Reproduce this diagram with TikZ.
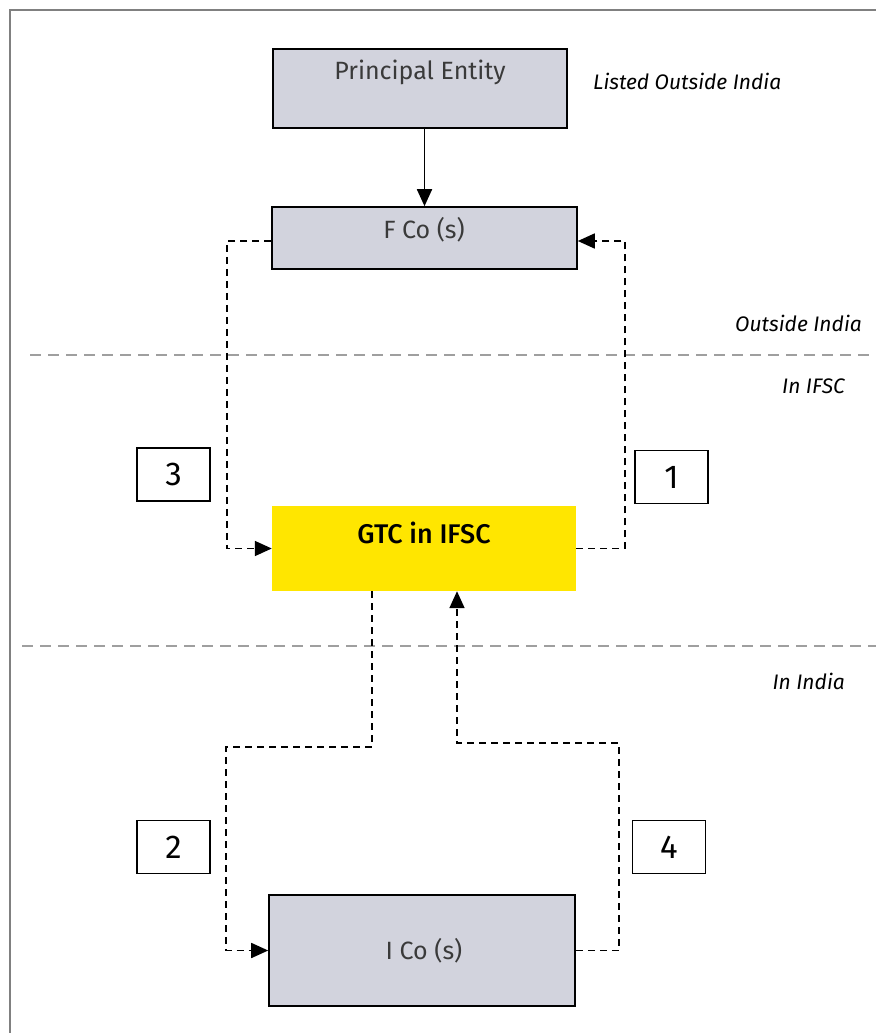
\documentclass[tikz,border=0pt]{standalone}
\usepackage{fontspec}
\setmainfont{Fira Sans}
\newfontfamily\gtcfont{Fira Sans Medium}
\usetikzlibrary{arrows.meta}

\definecolor{boxgrey}{HTML}{D2D3DD}
\definecolor{eyyellow}{HTML}{FFE600}
\definecolor{txtgrey}{HTML}{3A3A3A}

\begin{document}
\begin{tikzpicture}[x=1pt,y=-1pt,>={Triangle[length=17pt,width=15pt]},
  greybox/.style={draw,line width=1.6pt,fill=boxgrey,inner sep=0pt},
  boxtext/.style={text=txtgrey,font=\fontsize{25}{30}\selectfont,inner sep=0pt,anchor=base},
  numbox/.style={draw,line width=1.4pt,minimum width=73pt,minimum height=53pt,
                 font=\fontsize{33}{39}\selectfont,inner sep=0pt},
  zone/.style={font=\itshape\fontsize{21}{25}\selectfont,inner sep=0pt,anchor=base east},
  flow/.style={->,dash pattern=on 7pt off 5pt,line width=1.7pt},
  divider/.style={draw=gray!75,line width=1.6pt,dash pattern=on 11pt off 7pt}]

  \useasboundingbox (0,0) rectangle (876,1033);
  \draw[gray,line width=2pt] (10,1033) -- (10,10) -- (876,10);

  % zones
  \draw[divider] (30,355) -- (876,355);
  \draw[divider] (22,646) -- (876,646);
  \node[zone,anchor=base west] (listed) at (593,89) {Listed Outside India};
  \node[zone] (outside) at (862,331) {Outside India};
  \node[zone] (ifsc) at (845,393) {In IFSC};
  \node[zone] (india) at (845,689) {In India};

  % entities
  \node[greybox,minimum width=294pt,minimum height=79pt] (pe) at (420,88.5) {};
  \node[boxtext] (pet) at (420,80) {Principal Entity};
  \node[greybox,minimum width=305pt,minimum height=62pt] (fco) at (424.5,238) {};
  \node[boxtext] (fcot) at (424,238) {F Co (s)};
  \node[fill=eyyellow,minimum width=304pt,minimum height=85pt,inner sep=0pt] (gtc) at (424,548.5) {};
  \node[boxtext,text=black,font=\gtcfont\fontsize{27}{32}\selectfont] (gtct) at (424,543) {GTC in IFSC};
  \node[greybox,minimum width=306pt,minimum height=111pt] (ico) at (422,950.5) {};
  \node[boxtext,anchor=center] (icot) at (424,951) {I Co (s)};

  % steps
  \node[numbox] (n3) at (173.5,474.5) {3};
  \node[numbox] (n1) at (671.5,477) {1};
  \node[numbox] (n2) at (173.5,847) {2};
  \node[numbox] (n4) at (669,847) {4};

  % bends
  \coordinate (l3) at (227,241);
  \coordinate (r1) at (625,241);
  \coordinate (j2) at (372,747);
  \coordinate (k2) at (226,747);
  \coordinate (j4) at (457,743);
  \coordinate (k4) at (619,743);

  % connectors
  \draw[->,line width=1.8pt] (pe.south -| fco.north) -- (fco.north);
  \draw[flow] ([yshift=-3pt]fco.west) -- (l3) |- (gtc.west);
  \draw[flow] (gtc.east) -| (r1) -- ([yshift=-3pt]fco.east);
  \draw[flow] (gtc.south -| j2) -- (j2) -- (k2) |- (ico.west);
  \draw[flow] (ico.east) -| (k4) -- (j4) -- (gtc.south -| j4);
\end{tikzpicture}
\end{document}
